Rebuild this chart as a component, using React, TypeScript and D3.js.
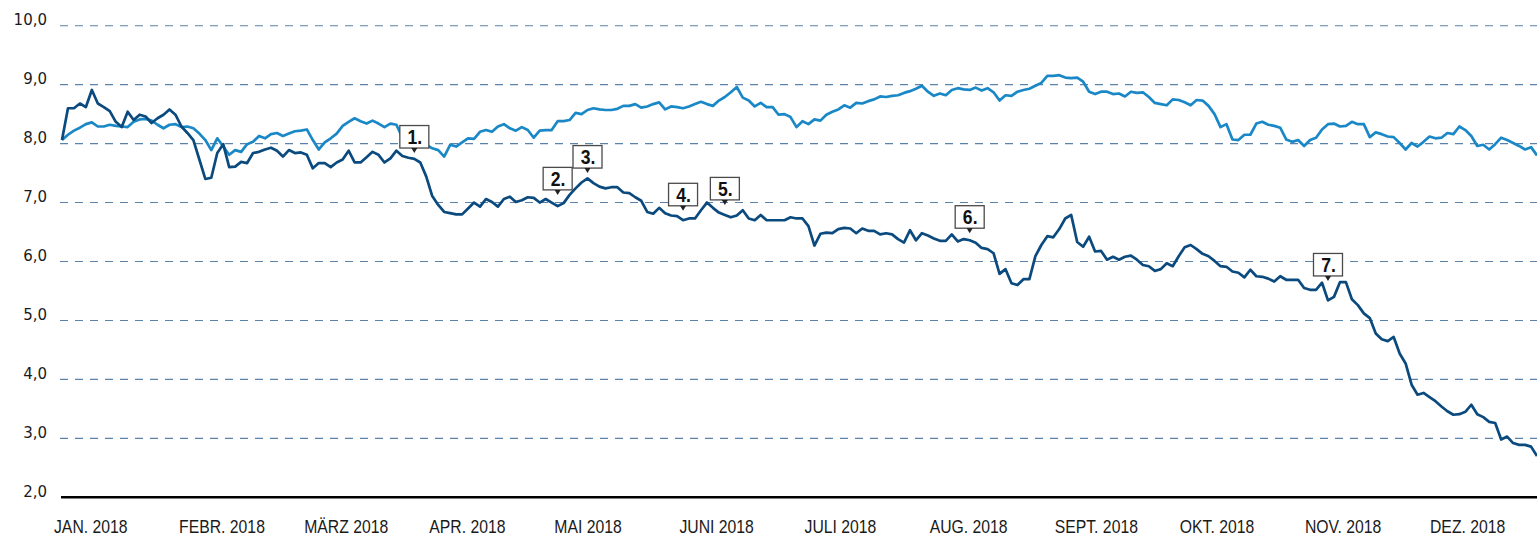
import React from "react";
import * as d3 from "d3";

// Series values, one value per trading day, Jan–Dec 2018
const seriesDark: number[] = [
  8.06, 8.60, 8.60, 8.68, 8.62, 8.91, 8.68, 8.62, 8.55, 8.37,
  8.28, 8.54, 8.40, 8.49, 8.46, 8.35, 8.43, 8.49, 8.58, 8.49,
  8.29, 8.18, 8.06, 7.73, 7.40, 7.42, 7.84, 7.99, 7.60, 7.61,
  7.69, 7.67, 7.84, 7.86, 7.90, 7.93, 7.88, 7.78, 7.89, 7.84,
  7.85, 7.81, 7.58, 7.67, 7.67, 7.60, 7.68, 7.73, 7.88, 7.68,
  7.68, 7.77, 7.86, 7.81, 7.68, 7.75, 7.88, 7.79, 7.76, 7.74,
  7.68, 7.44, 7.11, 6.96, 6.84, 6.82, 6.80, 6.80, 6.90, 7.00,
  6.93, 7.06, 7.01, 6.93, 7.06, 7.10, 7.01, 7.04, 7.09, 7.08,
  7.00, 7.06, 7.00, 6.94, 6.99, 7.13, 7.24, 7.34, 7.41, 7.33,
  7.27, 7.24, 7.26, 7.26, 7.17, 7.16, 7.09, 7.03, 6.84, 6.81,
  6.91, 6.82, 6.78, 6.77, 6.70, 6.73, 6.73, 6.87, 7.00, 6.91,
  6.83, 6.79, 6.75, 6.78, 6.87, 6.73, 6.70, 6.79, 6.70, 6.70,
  6.70, 6.70, 6.75, 6.73, 6.73, 6.60, 6.27, 6.47, 6.49, 6.48,
  6.55, 6.57, 6.56, 6.48, 6.56, 6.52, 6.52, 6.46, 6.48, 6.46,
  6.38, 6.32, 6.53, 6.36, 6.48, 6.44, 6.39, 6.35, 6.35, 6.46,
  6.34, 6.38, 6.36, 6.32, 6.23, 6.21, 6.14, 5.79, 5.87, 5.63,
  5.60, 5.70, 5.70, 6.09, 6.28, 6.43, 6.41, 6.55, 6.73, 6.79,
  6.33, 6.25, 6.42, 6.17, 6.18, 6.03, 6.08, 6.03, 6.08, 6.10,
  6.03, 5.94, 5.92, 5.84, 5.87, 5.97, 5.92, 6.09, 6.24, 6.28,
  6.21, 6.13, 6.09, 6.01, 5.92, 5.91, 5.83, 5.81, 5.73, 5.86,
  5.75, 5.74, 5.71, 5.66, 5.75, 5.69, 5.69, 5.69, 5.55, 5.52,
  5.52, 5.64, 5.34, 5.40, 5.65, 5.65, 5.36, 5.26, 5.12, 5.04,
  4.78, 4.68, 4.65, 4.72, 4.44, 4.27, 3.91, 3.74, 3.77, 3.70,
  3.63, 3.54, 3.46, 3.40, 3.41, 3.45, 3.57, 3.41, 3.36, 3.28,
  3.26, 2.98, 3.03, 2.92, 2.89, 2.89, 2.86, 2.70,
];

const seriesLight: number[] = [
  8.06, 8.15, 8.22, 8.27, 8.33, 8.36, 8.29, 8.29, 8.32, 8.30,
  8.29, 8.28, 8.37, 8.41, 8.42, 8.39, 8.32, 8.26, 8.32, 8.33,
  8.28, 8.29, 8.26, 8.17, 8.06, 7.89, 8.09, 7.95, 7.81, 7.89,
  7.86, 7.99, 8.03, 8.13, 8.09, 8.16, 8.18, 8.13, 8.17, 8.21,
  8.22, 8.24, 8.06, 7.90, 8.02, 8.09, 8.17, 8.30, 8.37, 8.43,
  8.38, 8.34, 8.39, 8.34, 8.28, 8.34, 8.32, 8.10, 8.03, 8.01,
  8.01, 7.98, 7.92, 7.89, 7.78, 7.98, 7.95, 8.02, 8.09, 8.08,
  8.20, 8.23, 8.20, 8.29, 8.33, 8.26, 8.22, 8.28, 8.23, 8.10,
  8.22, 8.23, 8.23, 8.38, 8.38, 8.40, 8.52, 8.50, 8.57, 8.60,
  8.58, 8.57, 8.57, 8.59, 8.64, 8.64, 8.67, 8.61, 8.63, 8.67,
  8.70, 8.58, 8.63, 8.62, 8.60, 8.63, 8.67, 8.71, 8.67, 8.64,
  8.73, 8.79, 8.87, 8.96, 8.78, 8.73, 8.63, 8.69, 8.62, 8.62,
  8.49, 8.50, 8.45, 8.28, 8.38, 8.33, 8.41, 8.39, 8.49, 8.54,
  8.58, 8.65, 8.61, 8.69, 8.68, 8.72, 8.75, 8.80, 8.79, 8.81,
  8.82, 8.86, 8.89, 8.93, 8.98, 8.88, 8.81, 8.85, 8.82, 8.91,
  8.94, 8.92, 8.91, 8.95, 8.90, 8.94, 8.87, 8.73, 8.82, 8.81,
  8.88, 8.91, 8.93, 8.98, 9.03, 9.15, 9.15, 9.16, 9.12, 9.11,
  9.12, 9.05, 8.88, 8.84, 8.88, 8.88, 8.84, 8.85, 8.80, 8.88,
  8.86, 8.87, 8.79, 8.69, 8.67, 8.65, 8.75, 8.74, 8.70, 8.65,
  8.74, 8.73, 8.64, 8.50, 8.28, 8.33, 8.07, 8.06, 8.15, 8.15,
  8.34, 8.37, 8.32, 8.30, 8.27, 8.07, 8.03, 8.06, 7.96, 8.06,
  8.10, 8.24, 8.33, 8.34, 8.29, 8.30, 8.37, 8.33, 8.33, 8.11,
  8.19, 8.16, 8.12, 8.11, 8.01, 7.90, 8.01, 7.95, 8.03, 8.12,
  8.09, 8.10, 8.18, 8.16, 8.29, 8.23, 8.13, 7.96, 7.98, 7.90,
  7.99, 8.10, 8.06, 8.01, 7.96, 7.90, 7.94, 7.80,
];

const monthLabels: string[] = [
  "JAN. 2018", "FEBR. 2018", "MÄRZ 2018", "APR. 2018", "MAI 2018", "JUNI 2018",
  "JULI 2018", "AUG. 2018", "SEPT. 2018", "OKT. 2018", "NOV. 2018", "DEZ. 2018",
];

const yTicks: number[] = [2, 3, 4, 5, 6, 7, 8, 9, 10];

// Annotation markers: label, trading-day index, value where the pointer tip sits
const annotationLabels: string[] = ["1.", "2.", "3.", "4.", "5.", "6.", "7."];
const annotationIndex: number[] = [59, 83, 88, 104, 111, 152, 212];
const annotationValue: number[] = [7.84, 7.13, 7.50, 6.86, 6.96, 6.48, 5.67];

const W = 1537;
const H = 536;
const COLOR_DARK = "#0b4a7e";
const COLOR_LIGHT = "#1a88c6";
const GRID = "#5a82aa";
const sans = "'Liberation Sans', Arial, sans-serif";
const SQUEEZE = 0.83;

const deLocale = d3.formatLocale({ decimal: ",", thousands: ".", grouping: [3], currency: ["", " €"] });
const fmt = deLocale.format(".1f");

export default function App() {
  const N = seriesDark.length;
  const x = d3.scaleLinear().domain([0, N - 1]).range([62, 1537]);
  const y = d3.scaleLinear().domain([2, 10]).range([497.3, 25.7]);
  const xm = d3.scalePoint<string>().domain(monthLabels).range([54, 1430]);

  const line = d3
    .line<number>()
    .x((_, i) => x(i))
    .y((d) => y(d));

  return (
    <svg
      width={W}
      height={H}
      style={{ position: "absolute", left: 0, top: 0, display: "block", background: "#fff" }}
    >
      {/* gridlines */}
      {yTicks
        .filter((t) => t > 2)
        .map((t) => (
          <line
            key={t}
            x1={60}
            x2={W}
            y1={y(t)}
            y2={y(t)}
            stroke={GRID}
            strokeWidth={1.1}
            strokeDasharray="8,7"
          />
        ))}
      {/* baseline */}
      <line x1={61} x2={W} y1={y(2)} y2={y(2)} stroke="#000" strokeWidth={2.6} />
      {/* y labels */}
      {yTicks.map((t) => (
        <text
          key={t}
          x={47}
          y={y(t) - 0.5}
          textAnchor="end"
          fontFamily="'DejaVu Sans', sans-serif"
          fontSize={15}
          fill="#1a1a1a"
        >
          {fmt(t)}
        </text>
      ))}
      {/* x labels */}
      {monthLabels.map((m) => (
        <text
          key={m}
          transform={`translate(${xm(m)},533) scale(${SQUEEZE},1)`}
          textAnchor="start"
          fontFamily={sans}
          fontSize={19}
          fill="#1a1a1a"
        >
          {m}
        </text>
      ))}
      {/* lines */}
      <path
        d={line(seriesLight) || ""}
        fill="none"
        stroke={COLOR_LIGHT}
        strokeWidth={2.7}
        strokeLinejoin="round"
      />
      <path
        d={line(seriesDark) || ""}
        fill="none"
        stroke={COLOR_DARK}
        strokeWidth={2.7}
        strokeLinejoin="round"
      />
      {/* annotations */}
      {annotationLabels.map((lab, k) => {
        const tx = x(annotationIndex[k]);
        const ty = y(annotationValue[k]);
        const bw = 29;
        const bh = 22.5;
        const by = ty - 5 - bh;
        return (
          <g key={lab}>
            <rect
              x={tx - bw / 2}
              y={by}
              width={bw}
              height={bh}
              fill="#fff"
              stroke="#4a4a4a"
              strokeWidth={1.3}
            />
            <path d={`M${tx - 3},${ty - 5}L${tx + 3},${ty - 5}L${tx},${ty}Z`} fill="#222" />
            <text
              transform={`translate(${tx + 0.5},${by + bh - 4}) scale(0.88,1)`}
              textAnchor="middle"
              fontFamily={sans}
              fontWeight={700}
              fontSize={20}
              fill="#111"
            >
              {lab}
            </text>
          </g>
        );
      })}
    </svg>
  );
}
